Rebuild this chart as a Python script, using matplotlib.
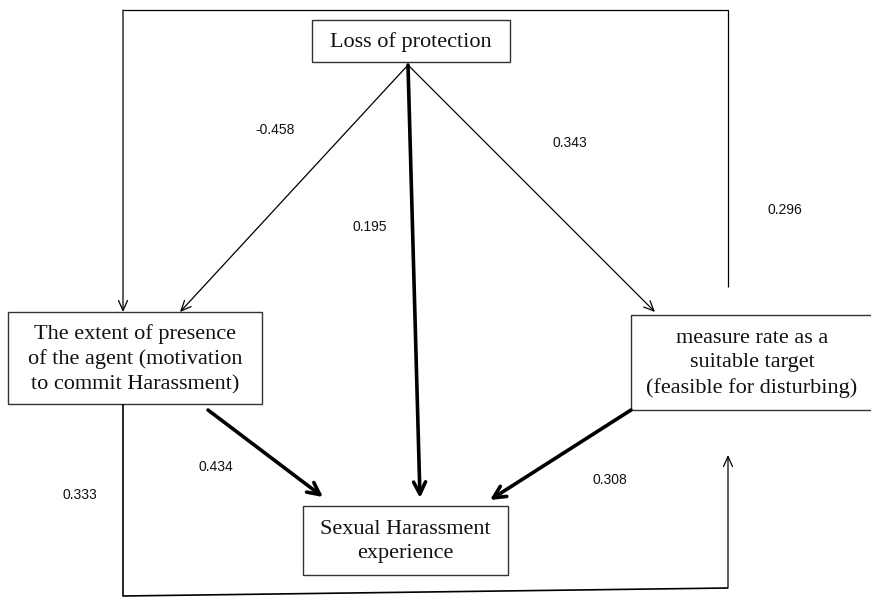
import matplotlib
matplotlib.use("Agg")
import matplotlib.pyplot as plt
from matplotlib.patches import FancyArrowPatch, Rectangle

# ---- data ----
node_names = ["loss", "agent", "target", "harass"]
node_labels = ["Loss of protection",
               "The extent of presence\nof the agent (motivation\nto commit Harassment)",
               "measure rate as a\nsuitable target\n(feasible for disturbing)",
               "Sexual Harassment\nexperience"]
coef_labels = ["-0.458", "0.343", "0.195", "0.296", "0.434", "0.333", "0.308"]

# ---- layout (pixel space) ----
W, H = 871, 598
fig = plt.figure(figsize=(W / 100, H / 100), dpi=100)
ax = fig.add_axes([0, 0, 1, 1])
ax.set_xlim(0, W)
ax.set_ylim(H, 0)
ax.axis("off")

boxes = {
    "loss": (312, 20, 510, 62),
    "agent": (8, 312, 262, 404),
    "target": (631, 315, 875, 410),
    "harass": (303, 506, 508, 575),
}
serif = ["Liberation Serif", "DejaVu Serif"]
for name, lab in zip(node_names, node_labels):
    x0, y0, x1, y1 = boxes[name]
    ax.add_patch(Rectangle((x0, y0), x1 - x0, y1 - y0, fill=False,
                           edgecolor="#333333", lw=1.0))
    cx = (x0 + x1) / 2 if name != "target" else 752
    ax.text(cx, (y0 + y1) / 2 + 1, lab, ha="center", va="center",
            fontsize=16, family=serif, linespacing=1.38, color="#111111")


def arrow(p0, p1, lw=0.9, hl=10, hw=4.5):
    ax.add_patch(FancyArrowPatch(p0, p1,
                                 arrowstyle=f"->,head_length={hl*0.72},head_width={hw*0.72}",
                                 lw=lw, color="black", shrinkA=0, shrinkB=0,
                                 mutation_scale=1))


def line(xs, ys, lw=0.9):
    ax.plot(xs, ys, color="black", lw=lw, solid_capstyle="butt")


# thin arrows from Loss of protection
arrow((408, 65), (180, 312))
arrow((408, 65), (655, 312))
# thick arrows into Sexual Harassment
arrow((408, 65), (420, 498), lw=2.6, hl=12, hw=6)
arrow((208, 410), (323, 497), lw=2.6, hl=12, hw=6)
arrow((631, 410), (490, 500), lw=2.6, hl=12, hw=6)

# top frame
line([123, 728, 728], [10, 10, 287])
arrow((123, 10), (123, 312))
# bottom loop
line([123, 123, 728], [404, 596, 588], lw=1.2)
arrow((728, 588), (728, 455))

sans = ["Liberation Sans", "DejaVu Sans"]
label_pos = [(275, 130), (570, 143), (370, 227), (785, 210),
             (216, 467), (80, 495), (610, 480)]
for txt, (x, y) in zip(coef_labels, label_pos):
    ax.text(x, y, txt, ha="center", va="center", fontsize=10,
            family=sans, color="#111111")

fig.savefig("out.png", dpi=100)
